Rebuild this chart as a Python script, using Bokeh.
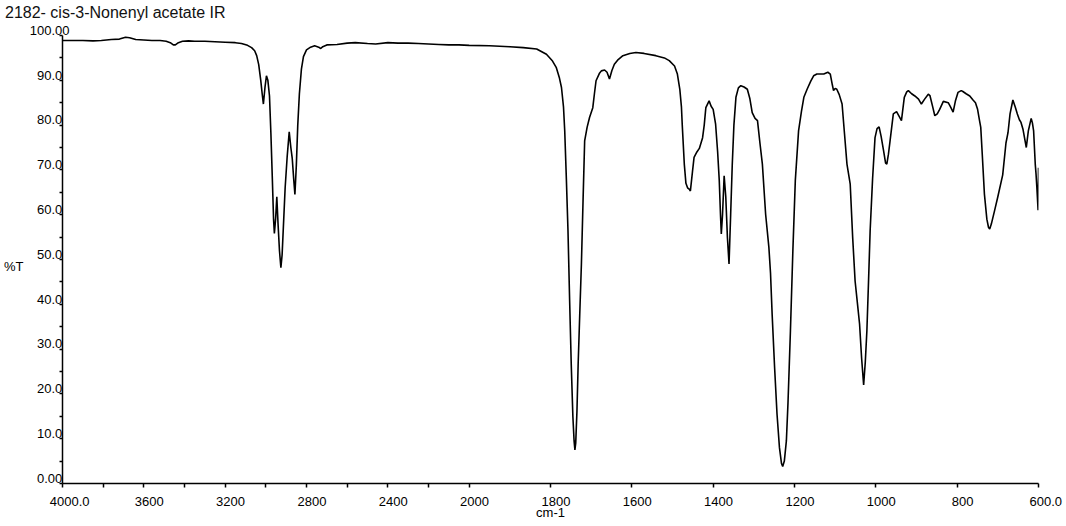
import numpy as np
from bokeh.plotting import figure
from bokeh.models import Range1d, FixedTicker, LinearAxis, ColumnDataSource
from bokeh.embed import file_html
from bokeh.resources import INLINE

# ---------------- data ----------------
title_text = "2182- cis-3-Nonenyl acetate IR"
x_title = "cm-1"
y_title = "%T"

wavenumber = [
    4000, 3950, 3900, 3850, 3809, 3760, 3720, 3690, 3670, 3640, 3600, 3560, 3520, 3490,
    3470, 3455, 3445, 3430, 3410, 3380, 3350, 3300, 3250, 3200, 3150, 3120, 3090, 3070,
    3055, 3045, 3035, 3025, 3018, 3012, 3004, 2997, 2990, 2982, 2975, 2968, 2962, 2958,
    2952, 2946, 2940, 2933, 2926, 2920, 2913, 2905, 2895, 2885, 2877, 2870, 2863, 2857,
    2850, 2843, 2835, 2825, 2815, 2800, 2780, 2760, 2740, 2730, 2720, 2700, 2650, 2600,
    2560, 2500, 2460, 2400, 2350, 2300, 2250, 2200, 2150, 2100, 2050, 2000, 1950, 1900,
    1867, 1834, 1810, 1795, 1786, 1778, 1773, 1768, 1765, 1761, 1757, 1753, 1749, 1745,
    1742, 1740, 1738, 1735, 1732, 1728, 1724, 1720, 1716, 1710, 1704, 1696, 1692, 1688,
    1680, 1675, 1667, 1661, 1655, 1649, 1643, 1635, 1622, 1605, 1590, 1570, 1541, 1520,
    1508, 1495, 1488, 1482, 1478, 1476, 1471, 1467, 1463, 1459, 1456, 1451, 1447, 1440,
    1434, 1426, 1422, 1418, 1410, 1405, 1400, 1394, 1389, 1385, 1382, 1380, 1377, 1373,
    1369, 1365, 1361, 1357, 1353, 1349, 1344, 1338, 1332, 1324, 1316, 1310, 1304, 1297,
    1291, 1285, 1279, 1271, 1263, 1259, 1255, 1249, 1243, 1237, 1232, 1229, 1225, 1220,
    1216, 1213, 1210, 1204, 1198, 1190, 1183, 1177, 1169, 1160, 1153, 1145, 1136, 1128,
    1118, 1112, 1107, 1104, 1100, 1096, 1090, 1083, 1077, 1071, 1063, 1057, 1051, 1045,
    1040, 1035, 1030, 1026, 1022, 1018, 1014, 1008, 1002, 997, 992, 987, 981, 976,
    973, 969, 965, 957, 949, 943, 937, 930, 924, 920, 912, 904, 895, 888,
    880, 871, 867, 860, 855, 849, 843, 834, 822, 816, 810, 804, 798, 790,
    786, 778, 769, 761, 755, 750, 745, 742, 738, 733, 727, 723, 720, 716,
    708, 700, 688, 680, 675, 670, 663, 657, 652, 647, 643, 638, 634, 630,
    625, 618, 615, 612, 608, 606, 604, 601, 600,
]
transmittance = [
    98.9, 98.9, 98.9, 98.8, 98.9, 99.1, 99.2, 99.6, 99.5, 99.1, 99.0, 98.9, 98.9, 98.7,
    98.4, 97.9, 97.9, 98.4, 98.7, 98.8, 98.7, 98.7, 98.6, 98.5, 98.4, 98.2, 97.8, 97.3,
    96.6, 95.5, 93.5, 90.0, 87.0, 84.7, 88.5, 91.0, 90.0, 86.5, 78.0, 68.0, 59.0, 55.8,
    59.0, 64.0, 58.0, 52.0, 48.2, 51.0, 58.0, 66.0, 73.0, 78.5, 75.0, 72.5, 68.0, 64.5,
    71.0, 80.0, 87.0, 92.5, 95.3, 96.8, 97.4, 97.7, 97.4, 97.1, 97.5, 97.9, 98.0, 98.3,
    98.4, 98.2, 98.1, 98.4, 98.3, 98.3, 98.2, 98.1, 98.0, 97.9, 97.9, 97.8, 97.7, 97.5,
    97.3, 97.0, 95.8, 94.3, 92.9, 90.5, 88.4, 84.0, 78.7, 68.0, 56.4, 41.0, 26.6, 15.0,
    9.5, 7.5, 9.0, 16.0, 26.6, 38.0, 49.0, 63.0, 76.5, 79.5, 81.7, 83.9, 87.0, 89.9,
    91.5, 92.1, 92.3, 91.8, 90.3, 92.2, 93.6, 94.5, 95.5, 96.0, 96.2, 96.0, 95.5, 95.0,
    94.4, 93.2, 91.4, 88.0, 84.0, 80.0, 71.3, 67.0, 66.0, 65.7, 65.3, 69.5, 72.8, 74.0,
    74.8, 77.2, 80.0, 83.9, 85.4, 84.2, 83.5, 80.2, 74.0, 67.6, 60.0, 55.7, 60.0, 68.7,
    64.0, 55.0, 49.0, 60.0, 71.3, 80.0, 86.2, 88.3, 88.8, 88.5, 88.0, 86.0, 82.8, 81.5,
    81.0, 76.0, 71.3, 60.1, 52.7, 47.0, 37.8, 26.0, 15.5, 8.0, 4.5, 3.8, 5.0, 9.5,
    18.0, 26.0, 34.1, 52.0, 67.6, 78.7, 83.0, 86.2, 88.0, 89.8, 91.0, 91.4, 91.4, 91.4,
    91.8, 91.4, 89.0, 87.7, 88.2, 88.0, 86.8, 84.7, 78.0, 71.3, 66.8, 55.0, 45.2, 40.0,
    35.6, 28.0, 22.0, 27.0, 34.1, 45.0, 56.4, 68.0, 77.2, 79.2, 79.6, 77.5, 74.3, 71.5,
    71.3, 73.5, 76.5, 82.5, 83.0, 82.0, 81.0, 86.2, 87.4, 87.7, 87.0, 86.5, 85.8, 84.7,
    85.8, 86.9, 86.6, 84.0, 82.1, 82.5, 83.5, 85.3, 85.0, 84.0, 82.9, 85.5, 87.3, 87.7,
    87.5, 87.0, 86.5, 85.6, 85.0, 83.6, 81.0, 79.5, 73.0, 64.6, 59.0, 57.2, 56.8, 57.9,
    60.9, 64.0, 68.9, 76.0, 78.3, 82.5, 85.6, 84.0, 82.5, 81.2, 80.6, 79.0, 77.0, 75.0,
    78.7, 81.5, 80.5, 78.7, 71.3, 69.0, 66.0, 61.0, 70.5,
]

x_ticks = [4000, 3800, 3600, 3400, 3200, 3000, 2800, 2600, 2400, 2200, 2000,
           1800, 1600, 1400, 1200, 1000, 800, 600]
x_tick_labels = ["4000.0", "", "3600", "", "3200", "", "2800", "", "2400", "", "2000",
                 "1800", "1600", "1400", "1200", "1000", "800", "600.0"]
y_ticks = [0, 10, 20, 30, 40, 50, 60, 70, 80, 90, 100]
y_tick_labels = ["0.00", "10.0", "20.0", "30.0", "40.0", "50.0", "60.0", "70.0",
                 "80.0", "90.0", "100.00"]
y_minor_ticks = [5, 15, 25, 35, 45, 55, 65, 75, 85, 95]
y_title_pos = 48.4

# The wavenumber axis is compressed by half above 2000 cm-1 (standard IR layout)
W_MAX, W_BREAK, W_MIN = 4000.0, 2000.0, 600.0


def axis_pos(w):
    w = np.asarray(w, dtype=float)
    return np.where(w >= W_BREAK, (W_MAX - w) / 2.0,
                    (W_MAX - W_BREAK) / 2.0 + (W_BREAK - w))


FONT = "Liberation Sans"
NB = "\u00a0"
FRAME_W = 980
X0, X1 = float(axis_pos(W_MAX)), float(axis_pos(W_MIN))

p = figure(width=1066, height=526,
           x_range=Range1d(X0, X1),
           y_range=Range1d(0, 100),
           min_border_left=58, min_border_right=28,
           min_border_top=35, min_border_bottom=43,
           output_backend="svg", toolbar_location=None)
p.outline_line_color = None
p.xgrid.visible = False
p.ygrid.visible = False
p.background_fill_color = "white"
p.border_fill_color = "white"

xa = p.below[0]
ya = p.left[0]

src = ColumnDataSource(dict(x=axis_pos(wavenumber), y=transmittance))
p.line("x", "y", source=src, line_color="black", line_width=1.6)

# ---- x axis
xt = axis_pos(x_ticks)
xa.ticker = FixedTicker(ticks=[float(t) for t in xt], minor_ticks=[])
xa.major_label_overrides = {
    float(t): ((NB * (4 if "." in s else 3)) + s if s else "")
    for t, s in zip(xt, x_tick_labels)
}
xa.major_tick_out = 4
xa.major_tick_in = 0
xa.minor_tick_out = 0
xa.major_label_standoff = 6
xa.axis_label = x_title
xa.axis_label_standoff = -7
xa.axis_label_text_font_style = "normal"

# ---- y axis: labels sit a little above their ticks in the original
ya.ticker = FixedTicker(ticks=y_ticks, minor_ticks=y_minor_ticks)
ya.major_label_overrides = {
    float(t): s + NB * (6 - len(s)) + "\n" for t, s in zip(y_ticks, y_tick_labels)
}
ya.major_label_text_line_height = 0.7
ya.major_tick_out = 3
ya.major_tick_in = 0
ya.minor_tick_out = 3
ya.minor_tick_in = 0
ya.major_label_standoff = -10

# extra left axis holding the horizontal "%T" caption
yt_axis = LinearAxis(ticker=FixedTicker(ticks=[y_title_pos], minor_ticks=[]),
                     major_label_overrides={y_title_pos: y_title},
                     axis_line_color=None, major_tick_line_color=None,
                     minor_tick_line_color=None, major_tick_out=0, major_tick_in=0,
                     minor_tick_out=0, minor_tick_in=0,
                     major_label_standoff=3)
p.add_layout(yt_axis, "left")

# chart title, placed at the top-left corner of the page
TITLE_CENTER_PX = 53.0   # title centre, pixels right of the frame's left edge
title_x = X0 + TITLE_CENTER_PX * (X1 - X0) / FRAME_W
title_axis = LinearAxis(ticker=FixedTicker(ticks=[title_x], minor_ticks=[]),
                        major_label_overrides={title_x: title_text},
                        axis_line_color=None, major_tick_line_color=None,
                        minor_tick_line_color=None, major_tick_out=0, major_tick_in=0,
                        minor_tick_out=0, minor_tick_in=0,
                        major_label_standoff=15)
p.add_layout(title_axis, "above")

for ax in (xa, ya, yt_axis):
    ax.major_label_text_font = FONT
    ax.major_label_text_font_size = "13px"
    ax.major_label_text_color = "black"
    ax.axis_label_text_font = FONT
    ax.axis_label_text_font_size = "13px"
    ax.axis_label_text_color = "black"
title_axis.major_label_text_font = FONT
title_axis.major_label_text_font_size = "16px"
title_axis.major_label_text_color = "#111111"

for ax in (xa, ya):
    ax.axis_line_color = "black"
    ax.axis_line_width = 1.5
    ax.major_tick_line_color = "black"
    ax.major_tick_line_width = 1.5
    ax.minor_tick_line_color = "black"
    ax.minor_tick_line_width = 1.5

open("out.html", "w").write(file_html(p, INLINE))
